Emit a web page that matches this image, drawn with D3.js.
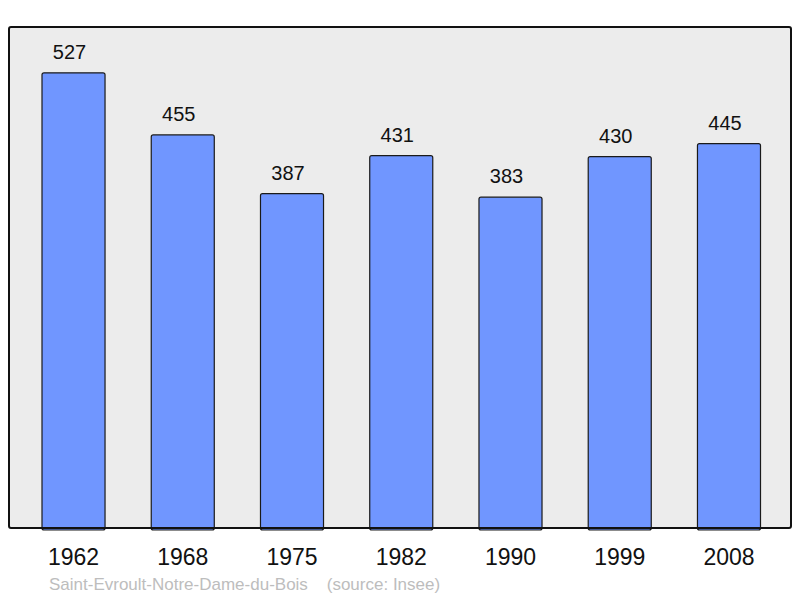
<!DOCTYPE html>
<html>
<head>
<meta charset="utf-8">
<script src="https://cdn.jsdelivr.net/npm/d3@7"></script>
<style>
  body { margin: 0; background: #fff; }
  svg { display: block; font-family: "Liberation Sans", Arial, sans-serif; }
</style>
</head>
<body>
<div id="chart"></div>
<script>
const years = ["1962", "1968", "1975", "1982", "1990", "1999", "2008"];
const population = [527, 455, 387, 431, 383, 430, 445];
const commune = "Saint-Evroult-Notre-Dame-du-Bois";
const source = "(source: Insee)";

var width = 800, height = 598;
var plot = { left: 9, right: 791, top: 27, bottom: 528 };

var svg = d3.select("#chart").append("svg")
    .attr("width", width)
    .attr("height", height);

var x = d3.scaleBand()
    .domain(years)
    .range([42, 760.5])
    .paddingInner(0.423)
    .paddingOuter(0);

var y = d3.scaleLinear()
    .domain([0, 580])
    .range([plot.bottom, plot.top]);

// plot background
svg.append("rect")
    .attr("x", plot.left)
    .attr("y", plot.top)
    .attr("width", plot.right - plot.left)
    .attr("height", plot.bottom - plot.top)
    .attr("rx", 2)
    .attr("fill", "#ececec");

// bars
svg.selectAll(".bar")
    .data(population)
    .enter().append("rect")
    .attr("class", "bar")
    .attr("x", (d, i) => x(years[i]))
    .attr("y", d => y(d))
    .attr("width", x.bandwidth())
    .attr("height", d => y(0) - y(d) + 2)
    .attr("rx", 2)
    .attr("fill", "#7096ff")
    .attr("stroke", "#1a1a1a")
    .attr("stroke-width", 1.2);

// value labels (sit slightly left of the bar centre, as in the original)
svg.selectAll(".val")
    .data(population)
    .enter().append("text")
    .attr("class", "val")
    .attr("x", (d, i) => x(years[i]) + x.bandwidth() / 2 - 4)
    .attr("y", d => y(d) - 14)
    .attr("text-anchor", "middle")
    .attr("font-size", 20)
    .attr("fill", "#111")
    .text(d => d);

// plot frame on top
svg.append("rect")
    .attr("x", plot.left)
    .attr("y", plot.top)
    .attr("width", plot.right - plot.left)
    .attr("height", plot.bottom - plot.top)
    .attr("rx", 2)
    .attr("fill", "none")
    .attr("stroke", "#111")
    .attr("stroke-width", 2);

// year axis
var xAxis = d3.axisBottom(x).tickSize(0).tickPadding(0);
var gx = svg.append("g")
    .attr("transform", `translate(0,${plot.bottom})`)
    .call(xAxis);
gx.select(".domain").remove();
gx.selectAll("text")
    .attr("dy", null)
    .attr("y", 37)
    .attr("font-size", 23)
    .attr("font-family", "Liberation Sans, Arial, sans-serif")
    .attr("fill", "#111");

// footer
svg.append("text")
    .attr("x", 49)
    .attr("y", 590)
    .attr("font-size", 17)
    .attr("fill", "#bdbdbd")
    .attr("xml:space", "preserve")
    .text(commune + "    " + source);
</script>
</body>
</html>
